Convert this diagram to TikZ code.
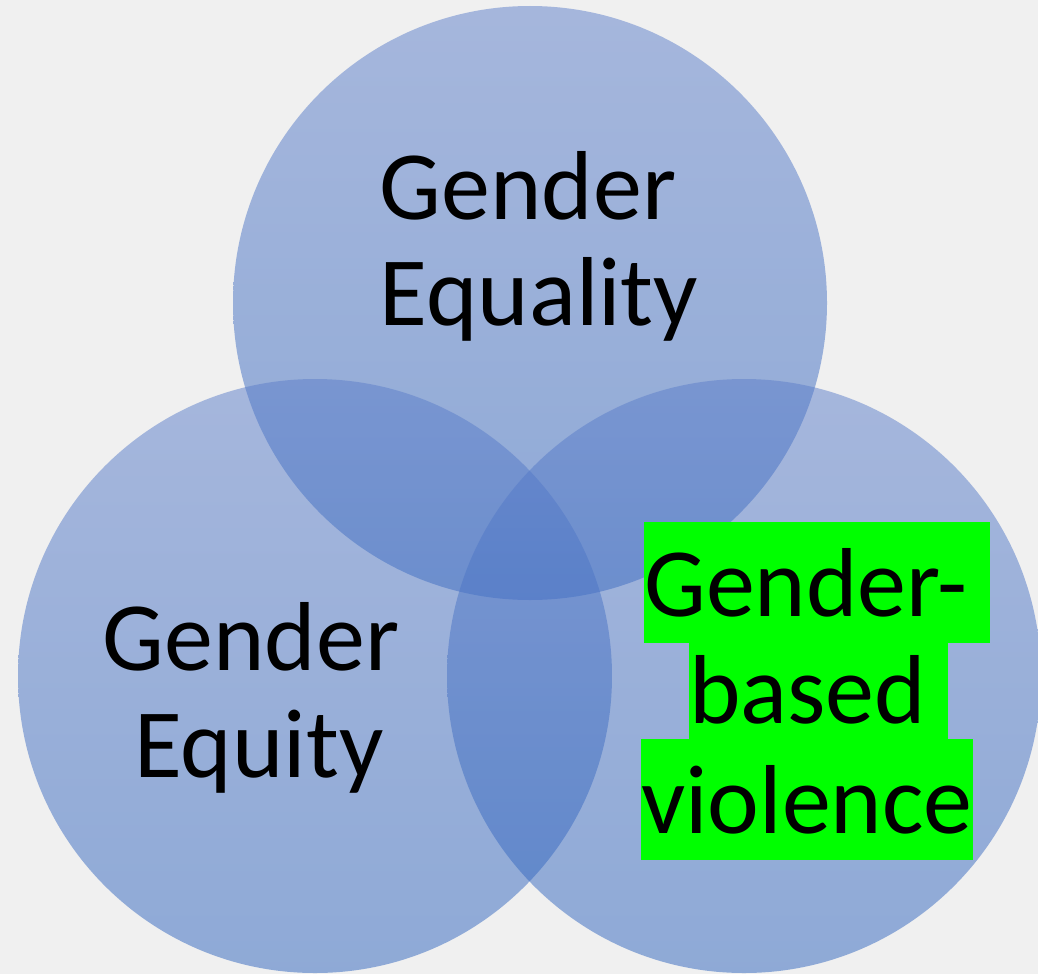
\documentclass[tikz,border=0pt]{standalone}
\usepackage{fontspec}
\setmainfont{Carlito}
\definecolor{bgcolor}{RGB}{240,240,240}
\definecolor{venntop}{RGB}{92,126,202}
\definecolor{vennbottom}{RGB}{46,100,190}
\definecolor{markgreen}{RGB}{0,255,0}
\tikzset{
  venncircle/.style={top color=venntop, bottom color=vennbottom, fill opacity=0.5, draw=none},
  vennlabel/.style={font=\fontsize{98}{107}\selectfont, inner sep=0pt, anchor=base},
  marklabel/.style={vennlabel, anchor=base west, fill=markgreen, text height=94pt, text depth=27pt}
}
\begin{document}
\begin{tikzpicture}[x=1pt,y=-1pt]
                            \useasboundingbox (0,0) rectangle (1038,974);
                            \fill [bgcolor] (0,0) rectangle (1038,974);
                            \clip (0,0) rectangle (1038,974);

                            % Drawing circle for equality
                            \shade [venncircle] (530,303) circle (297pt);%

                            % Drawing circle for equity
                            \shade [venncircle] (315,676) circle (297pt);%

                            % Drawing circle for violence
                            \shade [venncircle] (744,676) circle (297pt);%

                            % Marking label Gender Equality
                            \node (equality1) at (539,219) [vennlabel] {Gender\ \null};%
                            \node (equality2) at (539,325) [vennlabel] {Equality};%

                            % Marking label Gender Equity
                            \node (equity1) at (262,670) [vennlabel] {Gender\ \null};%
                            \node (equity2) at (259,777) [vennlabel] {Equity};%

                            % Marking label Gender-based violence
                            \node (violence1) at (644,616) [marklabel] {Gender-\ \null};%
                            \node (violence3) at (641,833) [marklabel] {violence};%
                            \node (violence2) at (689,723) [marklabel] {based\ \null};%
\end{tikzpicture}
\end{document}
